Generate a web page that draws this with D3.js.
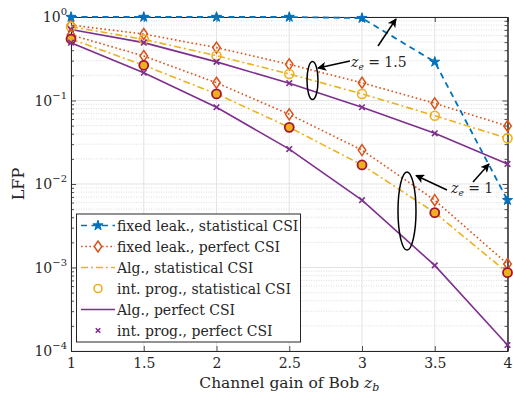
<!DOCTYPE html>
<html><head><meta charset="utf-8">
<script src="https://cdn.jsdelivr.net/npm/d3@7"></script>
<style>body{margin:0;background:#fff}svg{display:block}text{font-family:"DejaVu Serif",serif;fill:#262626}</style>
</head><body><svg id="c" width="513" height="396"></svg>
<script>
const xVals = [1, 1.5, 2, 2.5, 3, 3.5, 4];
const fixedLeakStat = [1, 1, 1, 1, 0.97, 0.29, 0.0064];
const fixedLeakPerf15 = [0.80, 0.625, 0.43, 0.271, 0.163, 0.0925, 0.0495];
const algStat15 = [0.766, 0.54, 0.344, 0.208, 0.12, 0.0658, 0.0352];
const algPerf15 = [0.71, 0.493, 0.29, 0.161, 0.083, 0.0405, 0.0174];
const fixedLeakPerf1 = [0.61, 0.341, 0.163, 0.0683, 0.0255, 0.0064, 0.0011];
const algStat1 = [0.545, 0.264, 0.12, 0.0477, 0.0169, 0.00454, 0.000867];
const algPerf1 = [0.493, 0.215, 0.083, 0.0262, 0.0064, 0.00106, 0.000118];
const xTicks = [1, 1.5, 2, 2.5, 3, 3.5, 4];
const yTickExp = [0, -1, -2, -3, -4];
const legendLabels = ["fixed leak., statistical CSI", "fixed leak., perfect CSI", "Alg., statistical CSI", "int. prog., statistical CSI", "Alg., perfect CSI", "int. prog., perfect CSI"];

const C = {blue:"#0072BD", orange:"#D95319", yellow:"#EDB120", purple:"#7E2F8E", red:"#A2142F"};
const L = 71, R = 507.5, T = 17, B = 351;
const FONT = "'DejaVu Serif',serif";
const svg = d3.select("#c");
const x = d3.scaleLinear().domain([1, 4]).range([L, R]);
const y = d3.scaleLog().domain([1e-4, 1]).range([B, T]);

// grid
const g = svg.append("g");
const minor = [];
for (let e = -4; e < 0; e++) for (let k = 2; k <= 9; k++) minor.push(k * Math.pow(10, e));
g.selectAll(".mg").data(minor).enter().append("line")
  .attr("x1", L).attr("x2", R).attr("y1", d => y(d)).attr("y2", d => y(d))
  .attr("stroke", "#d6d6d6").attr("stroke-width", 0.8).attr("stroke-dasharray", "1,1.5");
g.selectAll(".gx").data(xTicks).enter().append("line")
  .attr("x1", d => x(d)).attr("x2", d => x(d)).attr("y1", T).attr("y2", B)
  .attr("stroke", "#e3e3e3").attr("stroke-width", 1);
g.selectAll(".gy").data(yTickExp).enter().append("line")
  .attr("x1", L).attr("x2", R).attr("y1", d => y(Math.pow(10, d))).attr("y2", d => y(Math.pow(10, d)))
  .attr("stroke", "#e3e3e3").attr("stroke-width", 1);

// axes
const xb = svg.append("g").attr("transform", `translate(0,${B})`)
  .call(d3.axisBottom(x).tickValues(xTicks).tickSize(-5).tickFormat(d => d).tickPadding(7));
svg.append("g").attr("transform", `translate(0,${T})`)
  .call(d3.axisTop(x).tickValues(xTicks).tickSize(-5).tickFormat(""));
svg.append("g").attr("transform", `translate(${L},0)`)
  .call(d3.axisLeft(y).tickValues(yTickExp.map(e => Math.pow(10, e))).tickSize(-5).tickFormat(""));
svg.append("g").attr("transform", `translate(${R},0)`)
  .call(d3.axisRight(y).tickValues(yTickExp.map(e => Math.pow(10, e))).tickSize(-5).tickFormat(""));
svg.append("g").attr("transform", `translate(${L},0)`).call(d3.axisLeft(y).tickValues(minor).tickSize(-3).tickFormat(""));
svg.append("g").attr("transform", `translate(${R},0)`).call(d3.axisRight(y).tickValues(minor).tickSize(-3).tickFormat(""));
svg.selectAll(".domain").attr("stroke", "#262626").attr("stroke-width", 1);
svg.selectAll(".tick line").attr("stroke", "#262626").attr("stroke-width", 0.8);
xb.selectAll("text").attr("font-size", 14).style("font-family", FONT).attr("fill", "#262626");

// y tick labels with superscripts
yTickExp.forEach(e => {
  const t = svg.append("text").attr("x", 67).attr("y", y(Math.pow(10, e)) + 5)
    .attr("text-anchor", "end").attr("font-size", 14);
  t.append("tspan").text("10");
  t.append("tspan").attr("dy", -7).attr("font-size", 10).text(e === 0 ? "0" : "\u2212" + (-e));
});

// labels
svg.append("text").attr("transform", `translate(24,${(T + B) / 2}) rotate(-90)`).attr("text-anchor", "middle").attr("font-size", 16).text("LFP");
const xl = svg.append("text").attr("x", (L + R) / 2).attr("y", 388).attr("text-anchor", "middle").attr("font-size", 15.5);
xl.append("tspan").text("Channel gain of Bob ");
xl.append("tspan").attr("font-style", "italic").text("z");
xl.append("tspan").attr("font-style", "italic").attr("font-size", 11).attr("dy", 3).text("b");

const line = d3.line().x((d, i) => x(xVals[i])).y(d => y(d));
const diamond = "M0,-5.5L3.8,0L0,5.5L-3.8,0Z";
const cross = "M-2.8,-2.8L2.8,2.8M-2.8,2.8L2.8,-2.8";
const star = d3.symbol().type(d3.symbolStar).size(32)();

function series(data, color, dash, w) {
  svg.append("path").datum(data).attr("d", line).attr("fill", "none")
    .attr("stroke", color).attr("stroke-width", w).attr("stroke-dasharray", dash);
}
function markers(data, path, stroke, fill, w) {
  svg.append("g").selectAll("path").data(data).enter().append("path")
    .attr("transform", (d, i) => `translate(${x(xVals[i])},${y(d)})`)
    .attr("d", path).attr("stroke", stroke).attr("fill", fill).attr("stroke-width", w);
}
function circles(data, stroke, fill, w) {
  svg.append("g").selectAll("circle").data(data).enter().append("circle")
    .attr("cx", (d, i) => x(xVals[i])).attr("cy", d => y(d)).attr("r", 4.5)
    .attr("stroke", stroke).attr("fill", fill).attr("stroke-width", w);
}

// z_e = 1.5 group & z_e = 1 group
[[fixedLeakPerf15, algStat15, algPerf15, false], [fixedLeakPerf1, algStat1, algPerf1, true]].forEach(([fl, as, ap, filled]) => {
  series(fl, C.orange, "1.6,2.6", 1.6);
  series(as, C.yellow, "7,3,2,3", 1.6);
  series(ap, C.purple, null, 1.6);
  markers(fl, diamond, C.orange, "none", 1.5);
  if (filled) circles(as, C.red, C.yellow, 1.8); else circles(as, C.yellow, "none", 1.6);
  markers(ap, cross, C.purple, "none", 1.6);
});
series(fixedLeakStat, C.blue, "6,4.5", 1.8);
markers(fixedLeakStat, star, C.blue, C.blue, 1);

// annotations
svg.append("defs").append("marker").attr("id", "ah").attr("viewBox", "0 0 10 10").attr("refX", 9).attr("refY", 5)
  .attr("markerWidth", 9).attr("markerHeight", 9).attr("orient", "auto-start-reverse").attr("markerUnits", "userSpaceOnUse")
  .append("path").attr("d", "M0,0L10,5L0,10L2.5,5Z").attr("fill", "#000");
function arrow(x1, y1, x2, y2) {
  svg.append("line").attr("x1", x1).attr("y1", y1).attr("x2", x2).attr("y2", y2)
    .attr("stroke", "#000").attr("stroke-width", 1.5).attr("marker-end", "url(#ah)");
}
function ell(cx, cy, rx, ry) {
  svg.append("ellipse").attr("cx", cx).attr("cy", cy).attr("rx", rx).attr("ry", ry)
    .attr("fill", "none").attr("stroke", "#000").attr("stroke-width", 1.5);
}
function zlabel(xp, yp, val) {
  const t = svg.append("text").attr("x", xp).attr("y", yp).attr("font-size", 14);
  t.append("tspan").attr("font-style", "italic").text("z");
  t.append("tspan").attr("font-style", "italic").attr("font-size", 9).attr("dy", 3).text("e");
  t.append("tspan").attr("dy", -3).text(" = " + val);
}
ell(312.5, 80.5, 5.5, 19);
arrow(350, 61, 318, 68);
zlabel(351, 67, "1.5");
arrow(378, 46, 396, 19);
ell(407, 211, 9, 39);
arrow(447, 190, 416, 175.5);
zlabel(451, 193, "1");
arrow(473, 182, 489, 164);

// legend
const lg = svg.append("g");
lg.append("rect").attr("x", 76.5).attr("y", 214).attr("width", 224).attr("height", 128)
  .attr("fill", "#fff").attr("stroke", "#262626").attr("stroke-width", 1);
const rowY = i => 225.5 + i * 21;
const lx1 = 81, lx2 = 115, lxm = 98;
const specs = [
  {c: C.blue, dash: "6,4.5", m: "star"},
  {c: C.orange, dash: "1.6,2.6", m: "diamond"},
  {c: C.yellow, dash: "7,3,2,3", m: null},
  {c: null, m: "circle"},
  {c: C.purple, dash: null, m: null},
  {c: null, m: "cross"}
];
specs.forEach((s, i) => {
  const yy = rowY(i);
  if (s.c) lg.append("line").attr("x1", lx1).attr("x2", lx2).attr("y1", yy).attr("y2", yy)
    .attr("stroke", s.c).attr("stroke-width", 1.6).attr("stroke-dasharray", s.dash);
  if (s.m === "star") lg.append("path").attr("d", star).attr("transform", `translate(${lxm},${yy})`).attr("fill", C.blue).attr("stroke", C.blue).attr("stroke-width", 1);
  if (s.m === "diamond") lg.append("path").attr("d", diamond).attr("transform", `translate(${lxm},${yy})`).attr("fill", "#fff").attr("stroke", C.orange).attr("stroke-width", 1.5);
  if (s.m === "circle") lg.append("circle").attr("cx", lxm).attr("cy", yy).attr("r", 4).attr("fill", "none").attr("stroke", C.yellow).attr("stroke-width", 1.6);
  if (s.m === "cross") lg.append("path").attr("d", cross).attr("transform", `translate(${lxm},${yy}) scale(0.8)`).attr("fill", "none").attr("stroke", C.purple).attr("stroke-width", 2);
  lg.append("text").attr("x", 117).attr("y", yy + 5).attr("font-size", 14).text(legendLabels[i]);
});
</script></body></html>
